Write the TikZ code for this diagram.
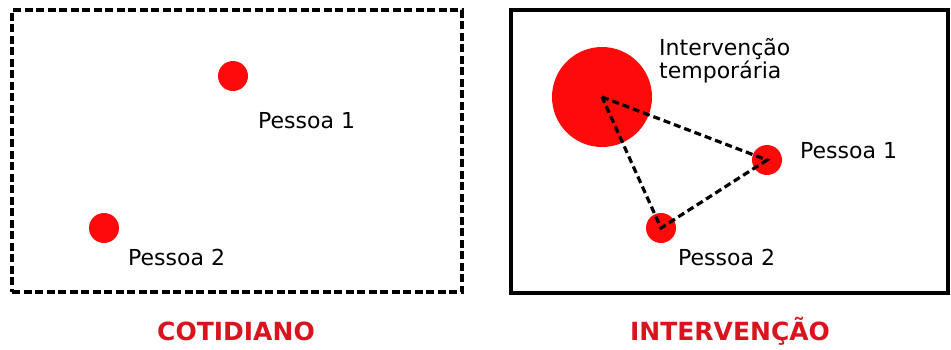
\documentclass[tikz,border=0pt]{standalone}
\usepackage{fontspec}
\setmainfont{DejaVu Sans}
\usetikzlibrary{positioning}
\definecolor{dotred}{HTML}{FF0A0A}
\definecolor{titlered}{HTML}{D9141E}

\begin{document}
\begin{tikzpicture}[x=1pt, y=-1pt,
    panel/.style={rectangle, draw=black, line width=3.2pt, inner sep=0pt},
    dot/.style={circle, fill=dotred, inner sep=0pt, minimum size=30pt},
    bigdot/.style={dot, minimum size=100pt},
    lbl/.style={font=\fontsize{22}{23}\selectfont, inner sep=0pt, anchor=base west, align=left},
    title/.style={font=\bfseries\fontsize{25}{28}\selectfont, text=titlered, inner sep=0pt, anchor=base},
    link/.style={draw=black, line width=3.2pt, dash pattern=on 7pt off 4pt},
  ]
  \useasboundingbox (0,0) rectangle (951,349);

  % Panel 1: Cotidiano
  \node[panel, dash pattern=on 8pt off 3.5pt, minimum width=450pt, minimum height=282pt] (cotbox) at (237,151) {};
  \node[dot] (p1a) at (233,76) {};
  \node[dot] (p2a) at (104,228) {};
  \node[lbl] (p1alabel) at (258,128) {Pessoa 1};
  \node[lbl] (p2alabel) at (128,265) {Pessoa 2};
  \node[title] (cottitle) at (236,340) {COTIDIANO};

  % Panel 2: Intervencao
  \node[panel, minimum width=437pt, minimum height=283pt] (intbox) at (729.5,151.5) {};
  \node[bigdot] (interv) at (602,97) {};
  \node[dot] (p1b) at (767,160) {};
  \node[dot] (p2b) at (661,228) {};
  \node[lbl] (intlabel) at (659,78) {Intervenção\\temporária};
  \node[lbl] (p1blabel) at (800,158) {Pessoa 1};
  \node[lbl] (p2blabel) at (678,265) {Pessoa 2};
  \node[title] (inttitle) at (730,340) {INTERVENÇÃO};

  % Links
  \draw[link] (interv.center) -- (p1b.center) -- (p2b.center) -- cycle;
\end{tikzpicture}
\end{document}
